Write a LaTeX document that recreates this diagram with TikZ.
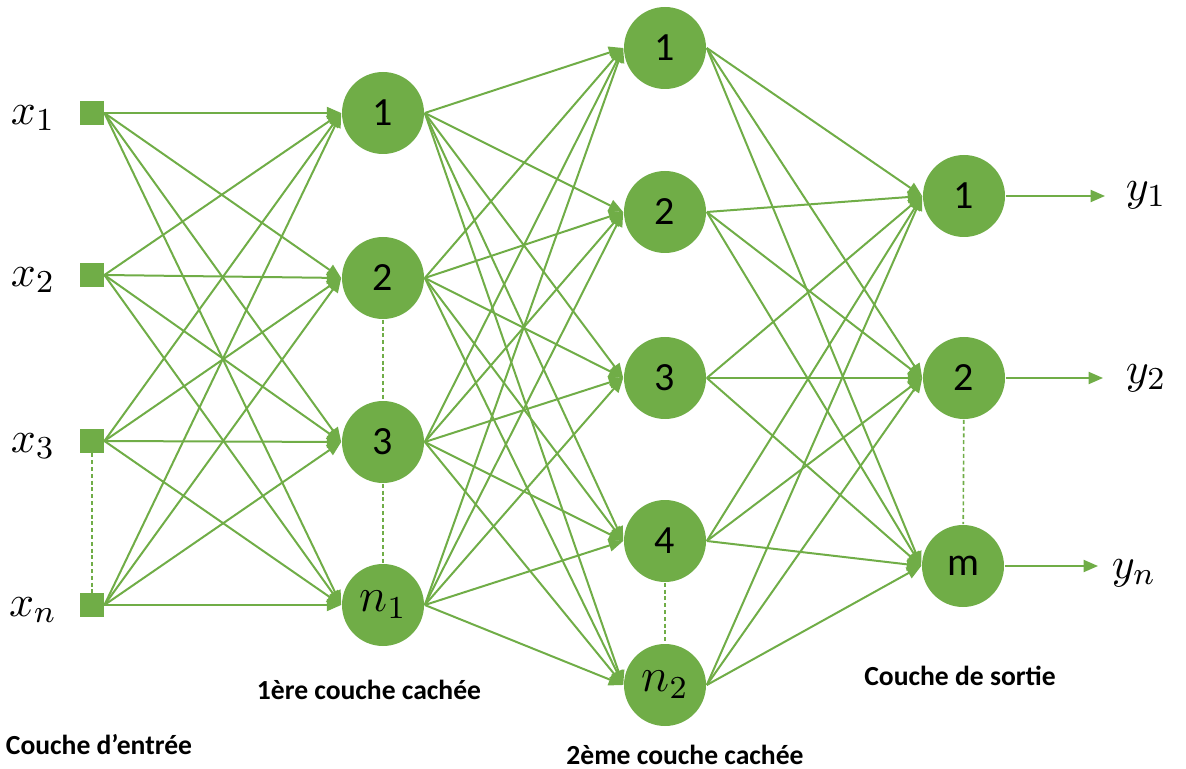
\documentclass[tikz,border=0pt]{standalone}
\usepackage{fontspec}
\setsansfont{Carlito}
\usetikzlibrary{arrows.meta}
\definecolor{leafgreen}{HTML}{70AD47}
\newcommand{\myLinks}[2]{
\foreach \s in {#1}{\foreach \t in {#2}{\draw[link] (\s.east) -- (\t.west);}}
}
\tikzset{
  neuron/.style={circle, fill=leafgreen, minimum size=20.5pt, inner sep=0pt,
    font=\sffamily\fontsize{10}{12}\selectfont},
  entry/.style={rectangle, fill=leafgreen, minimum size=5.8pt, inner sep=0pt},
  link/.style={leafgreen, line width=0.5pt, -{Triangle[length=3.6pt,width=3pt]}},
  gap/.style={leafgreen, line width=0.4pt, dash pattern=on 1pt off 0.7pt},
  layername/.style={font=\sffamily\bfseries\fontsize{6.9}{8}\selectfont},
  varname/.style={font=\fontsize{10.95}{13}\selectfont}
}

\begin{document}
\begin{tikzpicture}[x=0.25pt,y=-0.25pt]
			\useasboundingbox (0,0) rectangle (1186,769);
			% input layer
			\node[entry] (x1) at (92,113) {};
			\node[entry] (x2) at (92,275) {};
			\node[entry] (x3) at (92,441) {};
			\node[entry] (xn) at (92,605) {};
			\node[varname] (lx1) at (33,118) {$x_1$};
			\node[varname] (lx2) at (33,280) {$x_2$};
			\node[varname] (lx3) at (33,446) {$x_3$};
			\node[varname] (lxn) at (33,610) {$x_n$};
			% first hidden layer
			\node[neuron] (a1) at (383,113) {1};
			\node[neuron] (a2) at (383,278) {2};
			\node[neuron] (a3) at (383,442) {3};
			\node[neuron] (an) at (383,605) {\fontsize{12}{14}\selectfont$n_1$};
			% second hidden layer
			\node[neuron] (b1) at (665,48) {1};
			\node[neuron] (b2) at (665,212) {2};
			\node[neuron] (b3) at (665,378) {3};
			\node[neuron] (b4) at (665,541) {4};
			\node[neuron] (bn) at (665,685) {\fontsize{12}{14}\selectfont$n_2$};
			% output layer
			\node[neuron] (o1) at (964,196) {1};
			\node[neuron] (o2) at (964,378) {2};
			\node[neuron] (om) at (963,566) {m};
			\coordinate (t1) at (1105,196);
			\coordinate (t2) at (1103,378);
			\coordinate (tm) at (1098,566);
			\node[varname] (ly1) at (1146,195) {$y_1$};
			\node[varname] (ly2) at (1146,378) {$y_2$};
			\node[varname] (lym) at (1134,573) {$y_n$};
			% connections
			\myLinks{x1,x2,x3,xn}{a1,a2,a3,an}
			\myLinks{a1,a2,a3,an}{b1,b2,b3,b4,bn}
			\myLinks{b1,b2,b3,b4,bn}{o1,o2,om}
			\draw[link] (o1.east) -- (t1);
			\draw[link] (o2.east) -- (t2);
			\draw[link] (om.east) -- (tm);
			% skipped units
			\draw[gap] (x3) -- (xn);
			\draw[gap] (a2) -- (a3);
			\draw[gap] (a3) -- (an);
			\draw[gap] (b4) -- (bn);
			\draw[gap] (o2) -- (om);
			% layer names
			\node[layername] (nin) at (99,745) {Couche d’entrée};
			\node[layername] (nh1) at (369,690) {1ère couche cachée};
			\node[layername] (nh2) at (685,755) {2ème couche cachée};
			\node[layername] (nout) at (960,676) {Couche de sortie};
\end{tikzpicture}
\end{document}
